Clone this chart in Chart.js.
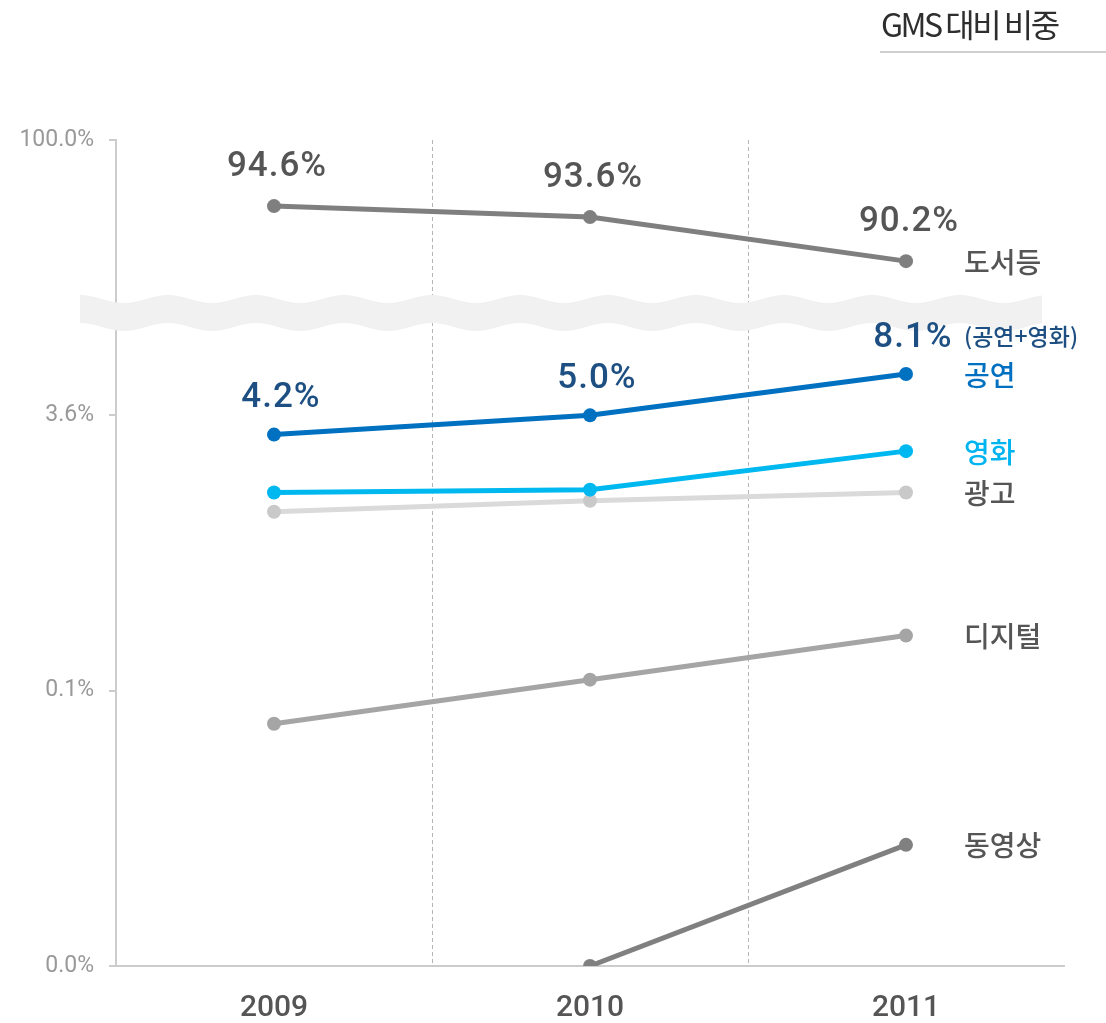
<!DOCTYPE html>
<html>
<head>
<meta charset="utf-8">
<script src="https://cdn.jsdelivr.net/npm/chart.js@4/dist/chart.umd.min.js"></script>
<style>
  body { margin: 0; background: #fff; }
  #wrap { position: relative; width: 1106px; height: 1023px; }
  #title {
    position: absolute; left: 880px; top: 0px; width: 226px;
    font-family: "Noto Sans CJK KR", sans-serif; font-size: 32px; color: #2e2e2e;
    letter-spacing: -2.5px; padding-left: 1px;
  }
  #rule { position: absolute; left: 880px; top: 51px; width: 226px; height: 2px; background: #cfcfcf; }
</style>
</head>
<body>
<div id="wrap">
  <canvas id="chart" width="1106" height="1023"></canvas>
  <div id="title">GMS 대비 비중</div>
  <div id="rule"></div>
</div>
<script>
// Categories and axis labels (axis is broken, ticks are evenly spaced)
const years = ["2009", "2010", "2011"];
const yTickLabels = ["0.0%", "0.1%", "3.6%", "100.0%"];

// Series values in axis units (0 = 0.0%, 1 = 0.1%, 2 = 3.6%, 3 = 100.0%)
const booksValues = [2.76, 2.72, 2.56];
const performanceValues = [1.93, 2.0, 2.15];
const movieValues = [1.72, 1.73, 1.87];
const adValues = [1.65, 1.69, 1.72];
const digitalValues = [0.88, 1.04, 1.2];
const videoValues = [null, 0, 0.44];

// Value labels shown above points
const booksLabels = ["94.6%", "93.6%", "90.2%"];
const performanceLabels = ["4.2%", "5.0%", "8.1%"];

const seriesNames = ["도서등", "공연", "영화", "광고", "디지털", "동영상"];

const korFont = '"Noto Sans CJK KR", sans-serif';

function line(label, data, color, pointColor) {
    return {
        label: label,
        data: data,
        borderColor: color,
        backgroundColor: pointColor || color,
        pointBackgroundColor: pointColor || color,
        pointBorderWidth: 0,
        borderWidth: 5,
        pointRadius: 7,
        tension: 0
    };
}

// Light wavy band marking the axis break
const breakBand = {
    id: "breakBand",
    beforeDatasetsDraw(chart) {
        const ctx = chart.ctx;
        const x0 = 80, x1 = 1042, top = 299, bottom = 327, amp = 4, period = 88;
        ctx.save();
        ctx.fillStyle = "#f1f1f1";
        ctx.beginPath();
        for (let x = x0; x <= x1; x += 2) {
            const y = top - amp * Math.cos((x - x0) / period * 2 * Math.PI);
            if (x === x0) ctx.moveTo(x, y); else ctx.lineTo(x, y);
        }
        for (let x = x1; x >= x0; x -= 2) {
            const y = bottom - amp * Math.cos((x - x0) / period * 2 * Math.PI);
            ctx.lineTo(x, y);
        }
        ctx.closePath();
        ctx.fill();
        ctx.restore();
    }
};

// Value labels and series names at the right
const annotations = {
    id: "annotations",
    afterDatasetsDraw(chart) {
        const ctx = chart.ctx;
        ctx.save();
        ctx.textBaseline = "middle";

        ctx.font = '500 35px Roboto, sans-serif';
        ctx.letterSpacing = "1px";
        ctx.textAlign = "center";
        const booksMeta = chart.getDatasetMeta(0);
        booksLabels.forEach((t, i) => {
            const p = booksMeta.data[i];
            ctx.fillStyle = "#555";
            ctx.fillText(t, p.x + 3, p.y - 39);
        });
        const perfMeta = chart.getDatasetMeta(1);
        performanceLabels.forEach((t, i) => {
            const p = perfMeta.data[i];
            ctx.fillStyle = "#1d4f82";
            ctx.fillText(t, p.x + 7, p.y - 36);
        });
        ctx.letterSpacing = "0px";
        const last = perfMeta.data[2];
        ctx.font = '500 23px ' + korFont;
        ctx.textAlign = "left";
        ctx.fillText("(공연+영화)", last.x + 58, last.y - 38);

        const nameColors = ["#555", "#0070c0", "#00b4ef", "#555", "#555", "#555"];
        ctx.font = '500 28px ' + korFont;
        seriesNames.forEach((name, i) => {
            const p = chart.getDatasetMeta(i).data[2];
            ctx.fillStyle = nameColors[i];
            ctx.fillText(name, 964, p.y + 1);
        });
        ctx.restore();
    }
};

function drawChart() {
    const ctx = document.getElementById("chart").getContext("2d");
    new Chart(ctx, {
        type: "line",
        data: {
            labels: years,
            datasets: [
                line(seriesNames[0], booksValues, "#7f7f7f"),
                line(seriesNames[1], performanceValues, "#0070c0"),
                line(seriesNames[2], movieValues, "#00b8f0"),
                line(seriesNames[3], adValues, "#dadada", "#c9c9c9"),
                line(seriesNames[4], digitalValues, "#a5a5a5"),
                line(seriesNames[5], videoValues, "#808080")
            ]
        },
        options: {
            responsive: false,
            animation: false,
            layout: { padding: { top: 140, right: 42, left: 0, bottom: 0 } },
            plugins: { legend: { display: false }, tooltip: { enabled: false } },
            scales: {
                x: {
                    offset: true,
                    grid: {
                        offset: true,
                        drawTicks: false,
                        color: (c) => (c.index === 1 || c.index === 2) ? "#b5b5b5" : "rgba(0,0,0,0)",
                        lineWidth: 1
                    },
                    border: { color: "#cccccc", width: 2, dash: [4, 3] },
                    ticks: { color: "#555", font: { family: "Roboto", size: 30, weight: "500" }, padding: 24 },
                    afterFit: (s) => { s.height = 57; }
                },
                y: {
                    min: 0,
                    max: 3,
                    grid: { drawOnChartArea: false, tickLength: 7, color: "#cccccc", lineWidth: 2 },
                    border: { color: "#cccccc", width: 2 },
                    ticks: {
                        stepSize: 1,
                        padding: 15,
                        color: "#999",
                        font: { family: "Roboto", size: 23 },
                        callback: (v) => yTickLabels[v]
                    },
                    afterFit: (s) => { s.width = 116; }
                }
            }
        },
        plugins: [breakBand, annotations]
    });
}

drawChart();
</script>
</body>
</html>
